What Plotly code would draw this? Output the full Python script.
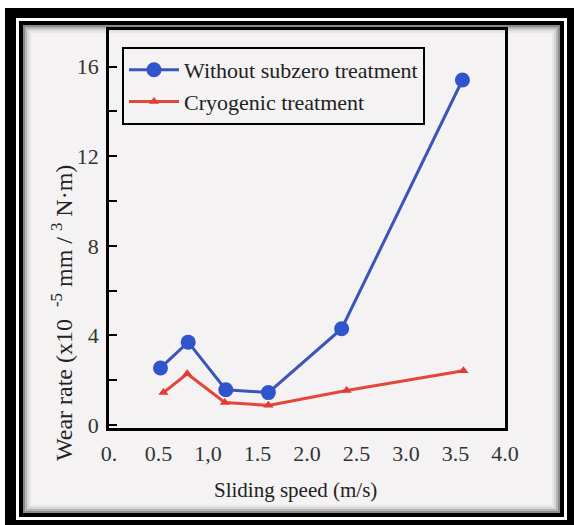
import plotly.graph_objects as go

# ---- data ----
speed_blue = [0.52, 0.80, 1.18, 1.61, 2.35, 3.57]
wear_blue = [2.55, 3.70, 1.58, 1.45, 4.30, 15.4]
speed_red = [0.55, 0.79, 1.17, 1.61, 2.40, 3.58]
wear_red = [1.45, 2.29, 1.01, 0.88, 1.54, 2.42]

x_tickvals = [0, 0.5, 1.0, 1.5, 2.0, 2.5, 3.0, 3.5, 4.0]
x_ticktext = ["0.", "0.5", "1,0", "1.5", "2.0", "2.5", "3.0", "3.5", "4.0"]
y_tickvals = [0, 4, 8, 12, 16]
y_ticktext = ["0", "4", "8", "12", "16"]

series_names = ["Without subzero treatment", "Cryogenic treatment"]

# ---- layout geometry (pixels) ----
W, H = 574, 525
L, R, T, B = 109, 505, 30, 428  # plot-area edges

def px(x):
    return (x - L) / (R - L)

def py(y):
    return (B - y) / (B - T)

FONT = "Liberation Serif"
BG = "#f4f2f2"

fig = go.Figure()
fig.add_trace(go.Scatter(
    x=speed_blue, y=wear_blue, name=series_names[0], mode="lines+markers",
    line=dict(color="#3a56b8", width=3),
    marker=dict(symbol="circle", size=15, color="#2f54cc"),
))
fig.add_trace(go.Scatter(
    x=speed_red, y=wear_red, name=series_names[1], mode="lines+markers",
    line=dict(color="#e5463a", width=3),
    marker=dict(symbol="triangle-up", size=9, color="#e23c32"),
))

shapes = []
def rect(x0, y0, x1, y1, fill=None, line_color=None, lw=0):
    shapes.append(dict(
        type="rect", xref="paper", yref="paper", layer="below",
        x0=px(x0), x1=px(x1), y0=py(y1), y1=py(y0),
        fillcolor=fill if fill else "rgba(0,0,0,0)",
        line=dict(color=line_color if line_color else "rgba(0,0,0,0)", width=lw),
    ))

# picture frame
rect(5, 8, 574, 525, fill="black")
rect(16, 18, 567, 520, fill="white")
rect(19, 21, 564, 517, fill="black")
rect(23, 25, 560, 513, fill=BG)
# inner shadow
rect(24, 26, 559, 512, line_color="#8a8a8a", lw=2)
rect(26, 28, 557, 510, line_color="#b5b5b5", lw=2)
rect(28, 30, 555, 508, line_color="#d6d6d6", lw=2)
rect(30, 32, 553, 506, line_color="#e8e6e6", lw=2)

annotations = [
    dict(text="Wear rate (x10  <sup>-5</sup> mm / <sup>3</sup> N·m)",
         xref="paper", yref="paper", x=px(62), y=py(313),
         xanchor="center", yanchor="middle", textangle=-90, showarrow=False,
         font=dict(family=FONT, size=24, color="#222")),
    dict(text="Sliding speed (m/s)",
         xref="paper", yref="paper", x=px(295), y=py(490),
         xanchor="center", yanchor="middle", showarrow=False,
         font=dict(family=FONT, size=21, color="#222")),
]

fig.update_layout(
    width=W, height=H,
    margin=dict(l=L, r=W - R, t=T, b=H - B, pad=0),
    paper_bgcolor="white",
    plot_bgcolor="rgba(0,0,0,0)",
    font=dict(family=FONT, size=21, color="#222"),
    shapes=shapes,
    annotations=annotations,
    showlegend=True,
    legend=dict(
        x=px(122), y=py(47), xanchor="left", yanchor="top",
        bgcolor=BG, bordercolor="black", borderwidth=2,
        font=dict(family=FONT, size=22, color="#222"),
        itemwidth=50, tracegroupgap=0,
    ),
    xaxis=dict(
        range=[0, 4], tickvals=x_tickvals, ticktext=x_ticktext,
        showgrid=False, zeroline=False, showline=True, linecolor="black",
        linewidth=3, mirror=True, ticks="", ticklabelstandoff=4,
        tickfont=dict(family=FONT, size=22, color="#333"),
    ),
    yaxis=dict(
        range=[-0.13, 17.63], tickvals=y_tickvals, ticktext=y_ticktext,
        showgrid=False, zeroline=False, showline=True, linecolor="black",
        linewidth=2.5, mirror=True, ticks="inside", ticklen=8, tickwidth=2,
        tickcolor="black", ticklabelstandoff=3,
        minor=dict(tickvals=[2, 6, 10, 14], ticks="inside", ticklen=8,
                   tickwidth=2, tickcolor="black"),
        tickfont=dict(family=FONT, size=22, color="#333"),
    ),
)

fig.write_html("out.html", config={"displayModeBar": False})

# remove the default page margin so the figure sits at the window's origin
with open("out.html", "r", encoding="utf-8") as f:
    html = f.read()
html = html.replace("<head>", "<head><style>html,body{margin:0;padding:0;overflow:hidden;}</style>", 1)
with open("out.html", "w", encoding="utf-8") as f:
    f.write(html)
